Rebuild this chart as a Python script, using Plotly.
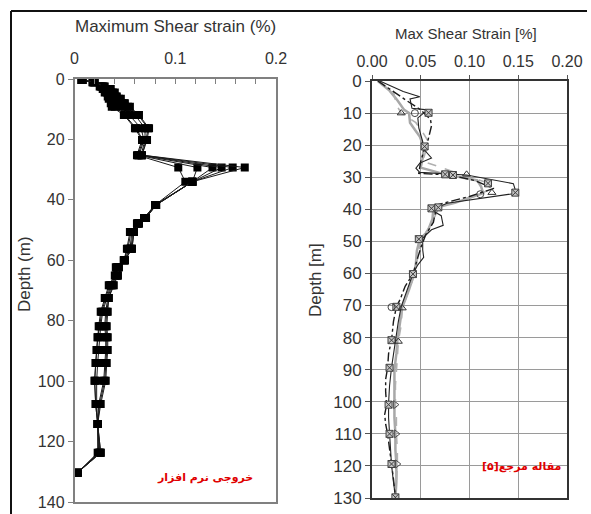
import plotly.graph_objects as go

W, H = 591, 514

# ---------------- Left panel data (software output) ----------------
depth_L = [0.3, 1.1, 2.5, 3.3, 4.5, 5.8, 6.5, 8.0, 9.2, 11.9, 16.3, 20.2, 25.2, 29.3, 34.0,
           41.7, 46.0, 47.8, 50.6, 56.2, 60.0, 62.3, 65.0, 68.3, 72.5, 77.0, 81.8, 85.5,
           89.7, 94.0, 99.9, 107.6, 114.2, 123.7, 130.3]
strain_L1 = [0.007, 0.018, 0.025, 0.028, 0.030, 0.033, 0.034, 0.036, 0.037, 0.049, 0.060, 0.067, 0.062, 0.103, 0.110,
             0.080, 0.069, 0.062, 0.055, 0.052, 0.049, 0.041, 0.040, 0.034, 0.030, 0.026, 0.024, 0.023,
             0.022, 0.021, 0.020, 0.021, 0.023, 0.023, 0.003]
strain_L2 = [0.007, 0.018, 0.026, 0.030, 0.032, 0.035, 0.037, 0.040, 0.040, 0.050, 0.061, 0.068, 0.063, 0.122, 0.117,
             0.080, 0.069, 0.062, 0.056, 0.053, 0.049, 0.042, 0.041, 0.035, 0.031, 0.027, 0.025, 0.023,
             0.022, 0.021, 0.020, 0.021, 0.023, 0.024, 0.003]
strain_L3 = [0.007, 0.019, 0.027, 0.032, 0.034, 0.037, 0.040, 0.044, 0.047, 0.055, 0.066, 0.069, 0.064, 0.137, 0.117,
             0.080, 0.070, 0.063, 0.057, 0.055, 0.049, 0.043, 0.042, 0.036, 0.032, 0.028, 0.026, 0.025,
             0.024, 0.023, 0.022, 0.022, 0.023, 0.025, 0.003]
strain_L4 = [0.008, 0.019, 0.028, 0.033, 0.036, 0.039, 0.042, 0.047, 0.050, 0.060, 0.070, 0.070, 0.066, 0.146, 0.117,
             0.081, 0.070, 0.063, 0.058, 0.056, 0.050, 0.043, 0.042, 0.037, 0.033, 0.031, 0.030, 0.031,
             0.031, 0.030, 0.029, 0.024, 0.023, 0.025, 0.003]
strain_L5 = [0.008, 0.020, 0.029, 0.035, 0.038, 0.041, 0.044, 0.049, 0.053, 0.063, 0.073, 0.071, 0.067, 0.157, 0.117,
             0.081, 0.071, 0.064, 0.059, 0.057, 0.050, 0.044, 0.043, 0.038, 0.034, 0.032, 0.031, 0.032,
             0.032, 0.031, 0.030, 0.025, 0.023, 0.026, 0.003]
strain_L6 = [0.008, 0.020, 0.030, 0.036, 0.040, 0.042, 0.046, 0.050, 0.055, 0.064, 0.074, 0.072, 0.067, 0.169, 0.117,
             0.081, 0.071, 0.064, 0.059, 0.057, 0.050, 0.044, 0.043, 0.039, 0.034, 0.033, 0.032, 0.033,
             0.033, 0.032, 0.031, 0.026, 0.023, 0.026, 0.003]
left_series = [strain_L1, strain_L2, strain_L3, strain_L4, strain_L5, strain_L6]
left_xticks = [0, 0.1, 0.2]
left_xticktext = ["0", "0.1", "0.2"]

# ---------------- Right panel data (reference paper) ----------------
r1_depth = [0, 3.3, 4.9, 5.6, 8.5, 9.0, 11.5, 14.6, 18.9, 20.5, 24.0, 25.6, 27.2, 28.5, 29.3, 30.5, 32.0, 35.0,
            38.1, 40.2, 42.0, 45.0, 46.4, 49.0, 52.6, 55.0, 57.3, 60.1, 65.0, 70.3, 75.0, 80.7, 85.0, 89.4,
            95.0, 100.3, 105.0, 109.7, 115.0, 119.6, 125.0, 129.5]
r1_strain = [0.008, 0.032, 0.049, 0.039, 0.041, 0.057, 0.047, 0.048, 0.052, 0.051, 0.061, 0.049, 0.045, 0.049,
             0.097, 0.118, 0.145, 0.148, 0.077, 0.061, 0.071, 0.073, 0.061, 0.052, 0.052, 0.053, 0.047, 0.042,
             0.036, 0.030, 0.027, 0.024, 0.022, 0.020, 0.018, 0.017, 0.017, 0.018, 0.019, 0.020, 0.022, 0.024]

r2_depth = [0, 3, 6, 9, 12, 14, 17, 19, 21, 25, 28.8, 29.3, 31, 33.5, 36, 38.5, 41, 44, 48, 52, 56, 60.2, 64,
            68, 70.4, 75, 80.8, 85, 89.4, 93, 97, 100.9, 104, 107, 110, 114, 119.4, 124, 129.8]
r2_strain = [0.006, 0.020, 0.035, 0.050, 0.060, 0.061, 0.059, 0.057, 0.054, 0.050, 0.048, 0.080, 0.105, 0.125,
             0.100, 0.068, 0.065, 0.063, 0.055, 0.050, 0.046, 0.042, 0.034, 0.029, 0.025, 0.022, 0.020, 0.017,
             0.016, 0.014, 0.014, 0.015, 0.013, 0.014, 0.016, 0.018, 0.020, 0.022, 0.024]

r3_depth = [0, 3, 6, 9, 10, 13, 15.2, 17.3, 20.4, 24, 27, 29.1, 31, 33, 35, 38, 39.7, 43, 47, 49.3, 53, 57,
            60.4, 65, 70.6, 75, 81, 85, 90, 95, 100.9, 105, 110, 115, 119.4, 125, 129.8]
r3_strain = [0.006, 0.018, 0.026, 0.033, 0.038, 0.039, 0.044, 0.049, 0.053, 0.052, 0.050, 0.075, 0.108, 0.112,
             0.114, 0.085, 0.063, 0.062, 0.057, 0.049, 0.046, 0.045, 0.043, 0.038, 0.031, 0.029, 0.026, 0.025,
             0.023, 0.023, 0.023, 0.023, 0.024, 0.024, 0.025, 0.025, 0.024]

r4_depth = [0, 3.3, 7.5, 10, 13, 16, 19, 21, 25, 29, 31.8, 34, 36, 39, 44, 49.5, 55, 60, 65, 70.8, 76, 81.2,
            86, 90, 95, 100.9, 105, 110, 115, 119.4, 125, 129.8]
r4_strain = [0.006, 0.022, 0.025, 0.030, 0.045, 0.052, 0.058, 0.056, 0.052, 0.090, 0.119, 0.120, 0.104, 0.069,
             0.062, 0.050, 0.047, 0.044, 0.038, 0.031, 0.030, 0.027, 0.026, 0.025, 0.024, 0.024, 0.025, 0.025,
             0.026, 0.026, 0.025, 0.024]

xmark_depth = [9.9, 20.4, 29.1, 29.3, 31.9, 34.8, 39.7, 39.4, 49.3, 60.2, 70.4, 80.8, 89.4, 100.9, 110.0, 119.4, 129.8]
xmark_strain = [0.058, 0.054, 0.075, 0.083, 0.119, 0.147, 0.061, 0.068, 0.048, 0.042, 0.025, 0.020, 0.018, 0.017,
                0.018, 0.020, 0.024]
tri_depth = [10, 29.1, 34.8, 70.8, 81.2]
tri_strain = [0.030, 0.097, 0.123, 0.031, 0.027]
trir_depth = [100.9, 110, 119.4]
trir_strain = [0.024, 0.025, 0.026]
circ_depth = [10, 35.3, 70.5]
circ_strain = [0.044, 0.111, 0.020]

right_xticks = [0.0, 0.05, 0.10, 0.15, 0.20]

fig = go.Figure()

# left panel traces
for s in left_series:
    fig.add_trace(go.Scatter(x=s, y=depth_L, mode="lines+markers", xaxis="x", yaxis="y",
                             line=dict(color="#1a1a1a", width=1),
                             marker=dict(symbol="square", size=8, color="black"),
                             showlegend=False, hoverinfo="skip"))

# right panel traces
fig.add_trace(go.Scatter(x=r3_strain, y=r3_depth, mode="lines", xaxis="x2", yaxis="y2",
                         line=dict(color="#a8a8a8", width=2.5), showlegend=False))
fig.add_trace(go.Scatter(x=r4_strain, y=r4_depth, mode="lines", xaxis="x2", yaxis="y2",
                         line=dict(color="#b0b0b0", width=1.6, dash="dash"), showlegend=False))
fig.add_trace(go.Scatter(x=r2_strain, y=r2_depth, mode="lines", xaxis="x2", yaxis="y2",
                         line=dict(color="#1a1a1a", width=1.4, dash="dashdot"), showlegend=False))
fig.add_trace(go.Scatter(x=r1_strain, y=r1_depth, mode="lines", xaxis="x2", yaxis="y2",
                         line=dict(color="#222222", width=1.1), showlegend=False))
fig.add_trace(go.Scatter(x=xmark_strain, y=xmark_depth, mode="markers", xaxis="x2", yaxis="y2",
                         marker=dict(symbol="square-x", size=7, color="#c4c4c4",
                                     line=dict(color="#404040", width=1)), showlegend=False))
fig.add_trace(go.Scatter(x=tri_strain, y=tri_depth, mode="markers", xaxis="x2", yaxis="y2",
                         marker=dict(symbol="triangle-up-open", size=7, color="#303030",
                                     line=dict(width=1)), showlegend=False))
fig.add_trace(go.Scatter(x=trir_strain, y=trir_depth, mode="markers", xaxis="x2", yaxis="y2",
                         marker=dict(symbol="triangle-right-open", size=7, color="#505050",
                                     line=dict(width=1)), showlegend=False))
fig.add_trace(go.Scatter(x=circ_strain, y=circ_depth, mode="markers", xaxis="x2", yaxis="y2",
                         marker=dict(symbol="circle-open", size=7, color="#404040",
                                     line=dict(width=1)), showlegend=False))

def px_x(p):
    return p / W

def px_y(p):
    return 1 - p / H

font_fam = "Liberation Sans, Arial, sans-serif"
txt = "#333333"

fig.update_layout(
    width=W, height=H,
    margin=dict(l=0, r=0, t=0, b=0, autoexpand=False),
    paper_bgcolor="white", plot_bgcolor="white",
    font=dict(family=font_fam, color=txt),
    xaxis=dict(domain=[px_x(74.5), px_x(276)], range=[0, 0.2], side="top", anchor="y",
               automargin=False,
               tickvals=left_xticks, ticktext=left_xticktext,
               ticks="inside", ticklen=5, tickcolor="#808080",
               minor=dict(dtick=0.02, ticks="inside", ticklen=5, tickcolor="#808080"),
               showline=True, linecolor="#808080", linewidth=1.5, mirror=True,
               showgrid=False, zeroline=False, tickfont=dict(size=16, color=txt),
               ticklabelstandoff=7),
    yaxis=dict(domain=[px_y(502), px_y(79)], range=[140, 0], anchor="x",
               automargin=False,
               dtick=20, ticks="outside", ticklen=5, tickcolor="#808080",
               showline=True, linecolor="#808080", linewidth=1.5, mirror=True,
               showgrid=False, zeroline=False, tickfont=dict(size=16, color=txt)),
    xaxis2=dict(domain=[px_x(372), px_x(567)], range=[0, 0.2], side="top", anchor="y2",
                automargin=False,
                tickvals=right_xticks, tickformat=".2f",
                ticks="outside", ticklen=4, tickcolor="#555555",
                showline=True, linecolor="#333333", linewidth=2, mirror=True,
                showgrid=True, gridcolor="#9a9a9a", gridwidth=1, zeroline=False,
                tickfont=dict(size=16, color=txt), ticklabelstandoff=2),
    yaxis2=dict(domain=[px_y(498), px_y(81)], range=[130, 0], anchor="x2",
                automargin=False,
                dtick=10, ticks="outside", ticklen=5, tickcolor="#555555",
                showline=True, linecolor="#333333", linewidth=2, mirror=True,
                showgrid=True, gridcolor="#9a9a9a", gridwidth=1, zeroline=False,
                tickfont=dict(size=17, color=txt)),
)

annots = [
    dict(text="Maximum Shear strain (%)", x=px_x(175), y=px_y(26), size=17, angle=0),
    dict(text="Depth (m)", x=px_x(24), y=px_y(274), size=17, angle=-90),
    dict(text="Max Shear Strain [%]", x=px_x(466), y=px_y(33), size=15, angle=0),
    dict(text="Depth [m]", x=px_x(315), y=px_y(280), size=17, angle=-90),
]
for a in annots:
    fig.add_annotation(text=a["text"], x=a["x"], y=a["y"], xref="paper", yref="paper",
                       showarrow=False, textangle=a["angle"], xanchor="center", yanchor="middle",
                       font=dict(size=a["size"], color=txt, family=font_fam))

fig.add_annotation(text="<b>خروجی نرم افزار</b>", x=px_x(205), y=px_y(477), xref="paper", yref="paper",
                   showarrow=False, xanchor="center", yanchor="middle",
                   font=dict(size=11, color="#e00000", family="DejaVu Sans"))
fig.add_annotation(text="<b>مقاله مرجع[۵]</b>", x=px_x(521), y=px_y(466), xref="paper", yref="paper",
                   showarrow=False, xanchor="center", yanchor="middle",
                   font=dict(size=11, color="#e00000", family="DejaVu Sans"))

# outer frame lines
fig.add_shape(type="line", xref="paper", yref="paper", x0=px_x(11), x1=px_x(587), y0=px_y(11), y1=px_y(11),
              line=dict(color="#111111", width=2))
fig.add_shape(type="line", xref="paper", yref="paper", x0=px_x(11), x1=px_x(11), y0=px_y(11), y1=0,
              line=dict(color="#111111", width=2))

fig.write_html("out.html")
